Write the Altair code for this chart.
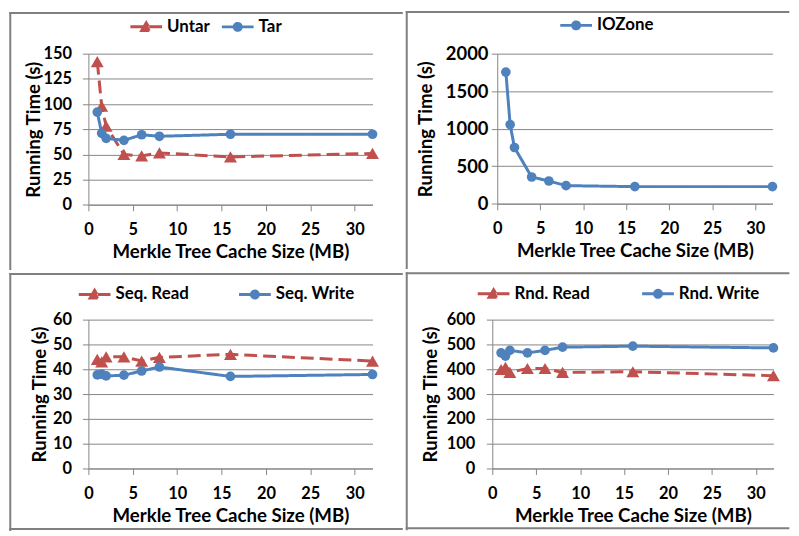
import altair as alt
import pandas as pd

# ---- data ----
x_mb = [1, 1.5, 2, 4, 6, 8, 16, 32]
x_ticks = [0, 5, 10, 15, 20, 25, 30]

untar = [142, 98, 78, 50, 48.5, 51.5, 47.5, 51]
tar = [92, 71, 66, 64, 69.5, 68, 70, 70]
iozone = [1755, 1055, 750, 357, 304, 242, 229, 229]
seq_read = [44, 43, 45, 45, 43.3, 44.8, 46, 43.3]
seq_write = [37.7, 38, 37.3, 37.6, 39.3, 40.9, 37.1, 37.9]
rnd_read = [399, 408, 387, 403, 403, 387, 390, 374]
rnd_write = [466, 453, 476, 466, 476, 489, 493, 486]

RED = "#C0504D"
BLUE = "#4F81BD"
GRID = "#868686"
FRAME = "#7F7F7F"
FONT = "Lato"
DASH = [13, 6]

# legend symbols: a line segment with the marker in the middle (unit = 10 px)
TRI_PATH = "M-1.6,0L1.6,0M-0.45,0.36L0,-0.4L0.45,0.36Z"
CIRC_PATH = "M-1.6,0L1.6,0M-0.35,0A0.35,0.35,0,1,0,0.35,0A0.35,0.35,0,1,0,-0.35,0Z"


def one_row():
    return alt.Chart(pd.DataFrame({"k": [0]}))


def panel(series, ydom, ystep, geo, leg, yax):
    names = [s[0] for s in series]
    rows = []
    for name, vals, kind in series:
        for xv, yv in zip(x_mb, vals):
            rows.append({"size": xv, "time": yv, "series": name})
    df = pd.DataFrame(rows)
    colors = [RED if s[2] == "tri" else BLUE for s in series]
    dashes = [DASH if s[2] == "tri" else [1, 0] for s in series]
    paths = [TRI_PATH if s[2] == "tri" else CIRC_PATH for s in series]

    legend = alt.Legend(
        title=None,
        orient="none",
        legendX=leg["x"],
        legendY=leg["y"],
        direction="horizontal",
        padding=0,
        symbolSize=400,
        symbolStrokeWidth=3,
        symbolOpacity=1,
        labelOffset=9.5,
        columnPadding=leg["colpad"],
        labelFont=FONT,
        labelFontWeight="bold",
        labelFontSize=17,
        labelColor="black",
    )

    x = alt.X(
        "size:Q",
        scale=alt.Scale(domain=[0, 32], nice=False, zero=False),
        axis=alt.Axis(
            values=x_ticks,
            grid=False,
            title="Merkle Tree Cache Size (MB)",
            tickSize=6,
            labelPadding=11,
            titlePadding=5,
            labelFlush=False,
        ),
    )
    y = alt.Y(
        "time:Q",
        scale=alt.Scale(domain=ydom, nice=False),
        axis=alt.Axis(
            values=list(range(ydom[0], ydom[1] + 1, ystep)),
            format="d",
            grid=True,
            title="Running Time (s)",
            tickSize=6,
            labelPadding=yax["pad"],
            labelFontSize=yax["size"],
            titlePadding=yax["tpad"],
        ),
    )

    base = alt.Chart(df)
    data_layers = []
    for name, vals, kind in series:
        sub = base.transform_filter(alt.datum.series == name)
        col = RED if kind == "tri" else BLUE
        dash = DASH if kind == "tri" else [1, 0]
        data_layers.append(
            sub.mark_line(strokeWidth=3, color=col, strokeDash=dash).encode(x=x, y=y)
        )
    for name, vals, kind in series:
        sub = base.transform_filter(alt.datum.series == name)
        col = RED if kind == "tri" else BLUE
        if kind == "tri":
            mk = sub.mark_point(filled=True, opacity=1, color=col, shape="triangle-up", size=170)
        else:
            mk = sub.mark_point(filled=True, opacity=1, color=col, shape="circle", size=95)
        data_layers.append(mk.encode(x=x, y=y))

    # legend-only layer (its rows are filtered out): line + marker symbols
    leg_layer = base.transform_filter("false").mark_point(
        filled=True, opacity=1, strokeWidth=3
    ).encode(
        fill=alt.Fill("series:N", scale=alt.Scale(domain=names, range=colors), legend=legend),
        stroke=alt.Stroke("series:N", scale=alt.Scale(domain=names, range=colors), legend=legend),
        shape=alt.Shape("series:N", scale=alt.Scale(domain=names, range=paths), legend=legend),
        strokeDash=alt.StrokeDash("series:N", scale=alt.Scale(domain=names, range=dashes), legend=legend),
    )

    x0, x1, y0, y1 = geo["cell"]
    bg = one_row().mark_rect(opacity=0).encode(
        x=alt.value(x0), x2=alt.value(x1), y=alt.value(y0), y2=alt.value(y1)
    )
    layers = [bg]
    layers.append(
        one_row().mark_rule(color=FRAME, strokeWidth=2).encode(
            x=alt.value(x0 + 1), y=alt.value(y0), y2=alt.value(y1)
        )
    )
    layers.append(
        one_row().mark_rule(color=FRAME, strokeWidth=2).encode(
            x=alt.value(x0), x2=alt.value(x1), y=alt.value(y0 + 1)
        )
    )
    if geo.get("bottom"):
        layers.append(
            one_row().mark_rule(color=FRAME, strokeWidth=2).encode(
                x=alt.value(x0), x2=alt.value(x1), y=alt.value(y1 - 2)
            )
        )
    layers += data_layers + [leg_layer]
    return alt.layer(*layers).properties(width=geo["w"], height=geo["h"])


p1 = panel(
    [("Untar", untar, "tri"), ("Tar", tar, "circ")],
    [0, 150], 25,
    {"cell": (-79.7, 316.8, -42, 218), "w": 286.3, "h": 152.3},
    {"x": 46.8, "y": -39, "colpad": 5.2},
    {"pad": 11, "size": 16.5, "tpad": 0},
)
p2 = panel(
    [("IOZone", iozone, "circ")],
    [0, 2000], 500,
    {"cell": (-92.2, 294.3, -43, 217), "w": 277.3, "h": 151.3},
    {"x": 68, "y": -40, "colpad": 10},
    {"pad": 3.4, "size": 18.5, "tpad": 10},
)
p3 = panel(
    [("Seq. Read", seq_read, "tri"), ("Seq. Write", seq_write, "circ")],
    [0, 60], 10,
    {"cell": (-79.7, 316.8, -47, 213), "w": 286.3, "h": 150, "bottom": True},
    {"x": -5.2, "y": -37.3, "colpad": 43.5},
    {"pad": 11, "size": 16.5, "tpad": 3},
)
p4 = panel(
    [("Rnd. Read", rnd_read, "tri"), ("Rnd. Write", rnd_write, "circ")],
    [0, 600], 100,
    {"cell": (-87.2, 299.3, -47.7, 212.3), "w": 283.3, "h": 150, "bottom": True},
    {"x": -10.2, "y": -38, "colpad": 45.7},
    {"pad": 11.7, "size": 16.5, "tpad": 5.5},
)

ind = dict(x="independent", y="independent", fill="independent",
           stroke="independent", shape="independent", strokeDash="independent")
indl = dict(fill="independent", stroke="independent",
            shape="independent", strokeDash="independent")

row1 = alt.hconcat(p1, p2, spacing=0).resolve_scale(**ind).resolve_legend(**indl)
row2 = alt.hconcat(p3, p4, spacing=0).resolve_scale(**ind).resolve_legend(**indl)

chart = (
    alt.vconcat(row1, row2, spacing=0)
    .resolve_scale(**ind)
    .resolve_legend(**indl)
    .properties(padding=0, background="white")
    .configure_view(stroke=None)
    .configure_axis(
        labelFont=FONT,
        labelFontWeight="bold",
        labelFontSize=16.5,
        labelColor="black",
        titleFont=FONT,
        titleFontWeight="bold",
        titleFontSize=18.8,
        titleColor="black",
        domainColor=GRID,
        tickColor=GRID,
        gridColor=GRID,
        domainWidth=1,
        tickWidth=1,
        gridWidth=1,
    )
)

chart.save("out.html", embed_options={"renderer": "svg", "actions": False})
